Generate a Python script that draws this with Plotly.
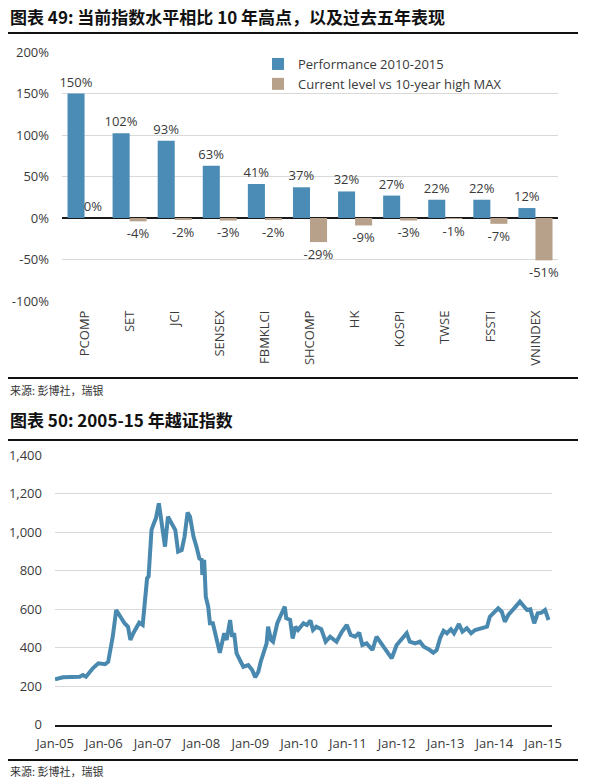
import plotly.graph_objects as go

# ---------- Data: chart 49 ----------
categories = ["PCOMP", "SET", "JCI", "SENSEX", "FBMKLCI", "SHCOMP", "HK", "KOSPI", "TWSE", "FSSTI", "VNINDEX"]
performance_2010_2015 = [150, 102, 93, 63, 41, 37, 32, 27, 22, 22, 12]
current_vs_10y_high = [0, -4, -2, -3, -2, -29, -9, -3, -1, -7, -51]
series_names = ["Performance 2010-2015", "Current level vs 10-year high MAX"]
y1_tickvals = [-100, -50, 0, 50, 100, 150, 200]
y1_ticktext = ["-100%", "-50%", "0%", "50%", "100%", "150%", "200%"]

# ---------- Data: chart 50 (VN index) ----------
vn_dates = [
    "2005-01-01", "2005-03-02", "2005-07-04", "2005-07-29", "2005-08-21", "2005-10-11", "2005-11-21",
    "2006-01-11", "2006-02-03", "2006-03-09", "2006-04-04", "2006-05-07", "2006-06-05", "2006-07-01",
    "2006-07-19", "2006-08-10", "2006-09-05", "2006-09-23", "2006-10-19", "2006-11-03", "2006-11-21",
    "2006-12-02", "2006-12-24", "2007-01-11", "2007-01-26", "2007-02-17", "2007-03-05", "2007-03-20",
    "2007-04-04", "2007-04-26", "2007-06-02", "2007-06-20", "2007-07-11", "2007-08-07", "2007-08-28",
    "2007-09-20", "2007-10-08", "2007-11-03", "2007-11-25", "2007-12-17", "2008-01-04", "2008-01-08",
    "2008-01-22", "2008-02-03", "2008-02-21", "2008-03-05", "2008-03-27", "2008-04-22", "2008-05-18",
    "2008-06-20", "2008-07-08", "2008-08-03", "2008-08-18", "2008-09-02", "2008-09-20", "2008-10-15",
    "2008-11-10", "2008-12-17", "2009-01-15", "2009-02-07", "2009-03-02", "2009-03-20", "2009-04-08",
    "2009-05-03", "2009-05-14", "2009-06-05", "2009-06-20", "2009-07-22", "2009-08-18", "2009-09-05",
    "2009-09-16", "2009-09-27", "2009-10-26", "2009-11-14", "2009-12-05", "2009-12-24", "2010-01-11",
    "2010-02-03", "2010-02-28", "2010-03-27", "2010-04-15", "2010-05-10", "2010-06-16", "2010-07-19",
    "2010-08-21", "2010-10-08", "2010-11-17", "2010-12-24", "2011-01-22", "2011-02-25", "2011-03-27",
    "2011-04-19", "2011-05-21", "2011-07-04", "2011-08-03", "2011-09-09", "2011-10-19", "2011-11-25",
    "2012-01-01", "2012-02-07", "2012-03-16", "2012-04-08", "2012-05-18", "2012-06-23", "2012-07-22",
    "2012-09-02", "2012-10-01", "2012-10-26", "2012-11-21", "2012-12-17", "2013-01-11", "2013-02-10",
    "2013-03-05", "2013-04-11", "2013-05-07", "2013-06-09", "2013-07-11", "2013-08-10", "2013-09-27",
    "2013-11-07", "2013-11-28", "2014-01-01", "2014-01-29", "2014-02-25", "2014-03-20", "2014-04-15",
    "2014-05-14", "2014-06-09", "2014-07-11", "2014-08-07", "2014-09-02", "2014-09-27", "2014-10-26",
    "2014-11-21", "2014-12-20", "2015-01-15", "2015-02-10",
]
vn_values = [
    235, 245, 248, 257, 248, 292, 318,
    313, 326, 456, 595, 557, 526, 508,
    439, 474, 508, 529, 517, 647, 760,
    768, 1011, 1045, 1071, 1149, 1080, 1011,
    924, 1080, 1028, 1010, 898, 906, 976,
    1101, 1080, 976, 924, 863, 855, 777,
    855, 664, 612, 526, 526, 456, 373,
    474, 439, 543, 456, 474, 370, 335,
    300, 309, 283, 245, 274, 326, 361,
    421, 508, 439, 430, 526, 569, 595,
    612, 552, 543, 447, 508, 491, 505,
    526, 517, 540, 491, 508, 495, 430,
    456, 430, 482, 517, 465, 456, 477,
    413, 421, 387, 456, 421, 387, 344,
    413, 447, 474, 430, 421, 430, 404,
    388, 373, 387, 448, 487, 474, 495,
    474, 522, 482, 500, 474, 491, 500,
    508, 560, 581, 604, 586, 534, 569,
    595, 612, 638, 616, 595, 598, 526,
    578, 581, 595, 543,
]
x2_ticks = ["2005-01-01", "2006-01-01", "2007-01-01", "2008-01-01", "2009-01-01", "2010-01-01",
            "2011-01-01", "2012-01-01", "2013-01-01", "2014-01-01", "2015-01-01"]

title1 = "图表 49: 当前指数水平相比 10 年高点，以及过去五年表现"
title2 = "图表 50: 2005-15 年越证指数"
source_text = "来源: 彭博社，瑞银"

# ---------- Styling ----------
# The page body has an 8px margin, so the figure is drawn 8px in from the window corner.
OFF = 8
W, H = 608 - OFF, 778 - OFF
BLUE = "#4A8CB5"
TAN = "#B8A18A"
LINE = "#4A89AF"
GRID = "#D9D9D9"
TXT = "#3a3a3a"
FONT = "Open Sans"
CJK = "Noto Sans CJK SC"

def px(x):
    return (x - OFF) / W

def py(y):
    return 1 - (y - OFF) / H

fig = go.Figure()

fig.add_trace(go.Bar(
    x=categories, y=performance_2010_2015, name=series_names[0],
    marker=dict(color=BLUE, line=dict(width=0)),
    text=[f"{v}%" for v in performance_2010_2015], textposition="outside",
    constraintext="none",
    textfont=dict(family=FONT, size=13, color=TXT), cliponaxis=False,
    xaxis="x", yaxis="y",
))
fig.add_trace(go.Bar(
    x=categories, y=current_vs_10y_high, name=series_names[1],
    marker=dict(color=TAN, line=dict(width=0)),
    text=[f"{v}%" for v in current_vs_10y_high], textposition="outside",
    constraintext="none",
    textfont=dict(family=FONT, size=13, color=TXT), cliponaxis=False,
    xaxis="x", yaxis="y",
))
fig.add_trace(go.Scatter(
    x=vn_dates, y=vn_values, mode="lines", showlegend=False,
    line=dict(color=LINE, width=4),
    xaxis="x2", yaxis="y2",
))

fig.update_layout(
    template="none",
    width=W, height=H,
    margin=dict(l=0, r=0, t=0, b=0, pad=0, autoexpand=False),
    paper_bgcolor="white", plot_bgcolor="white",
    font=dict(family=FONT, size=13, color=TXT),
    barmode="group", bargap=0.244, bargroupgap=0,
    showlegend=True,
    legend=dict(x=px(258), y=py(49), xanchor="left", yanchor="top",
                bgcolor="rgba(0,0,0,0)", borderwidth=0,
                font=dict(family=FONT, size=13, color=TXT),
                tracegroupgap=0, itemwidth=30),
    xaxis=dict(domain=[px(62), px(558)], anchor="y", type="category", automargin=False,
               tickangle=-90, showgrid=False, showline=False, zeroline=False, ticks="",
               ticklabelstandoff=6, tickfont=dict(family=FONT, size=13, color=TXT)),
    yaxis=dict(domain=[py(301), py(52)], anchor="x", range=[-100, 200], automargin=False,
               tickmode="array", tickvals=y1_tickvals, ticktext=y1_ticktext,
               showgrid=True, gridcolor=GRID, gridwidth=1,
               zeroline=True, zerolinecolor="#1a1a1a", zerolinewidth=1.5,
               showline=False, ticks="", ticklabelstandoff=12,
               tickfont=dict(family=FONT, size=13, color=TXT)),
    xaxis2=dict(domain=[px(55), px(552)], anchor="y2", type="date", automargin=False,
                range=["2005-01-01", "2015-03-08"], tickmode="array", tickvals=x2_ticks,
                tickformat="%b-%y",
                showgrid=False, showline=True, linecolor="#1a1a1a", linewidth=2, zeroline=False,
                ticks="", ticklabelstandoff=6, tickfont=dict(family=FONT, size=13, color=TXT)),
    yaxis2=dict(domain=[py(724.5), py(455)], anchor="x2", range=[0, 1400], dtick=200,
                automargin=False, tickformat=",", showgrid=True, gridcolor=GRID, gridwidth=1,
                zeroline=False, showline=False, ticks="", ticklabelstandoff=12,
                tickfont=dict(family=FONT, size=13, color=TXT)),
)

# separator rules
for yy in (33, 378, 440, 760):
    fig.add_shape(type="line", xref="paper", yref="paper",
                  x0=px(8), x1=px(578), y0=py(yy), y1=py(yy),
                  line=dict(color="#111111", width=2))

# titles and sources
fig.add_annotation(text=f"<b>{title1}</b>", xref="paper", yref="paper", x=px(8), y=py(17),
                   xanchor="left", yanchor="middle", showarrow=False,
                   font=dict(family=CJK, size=17, color="#111111"))
fig.add_annotation(text=f"<b>{title2}</b>", xref="paper", yref="paper", x=px(8), y=py(419),
                   xanchor="left", yanchor="middle", showarrow=False,
                   font=dict(family=CJK, size=17, color="#111111"))
for yy in (390, 771):
    fig.add_annotation(text=source_text, xref="paper", yref="paper", x=px(8), y=py(yy),
                       xanchor="left", yanchor="middle", showarrow=False,
                       font=dict(family=CJK, size=11, color="#333333"))

fig.write_html("out.html")
